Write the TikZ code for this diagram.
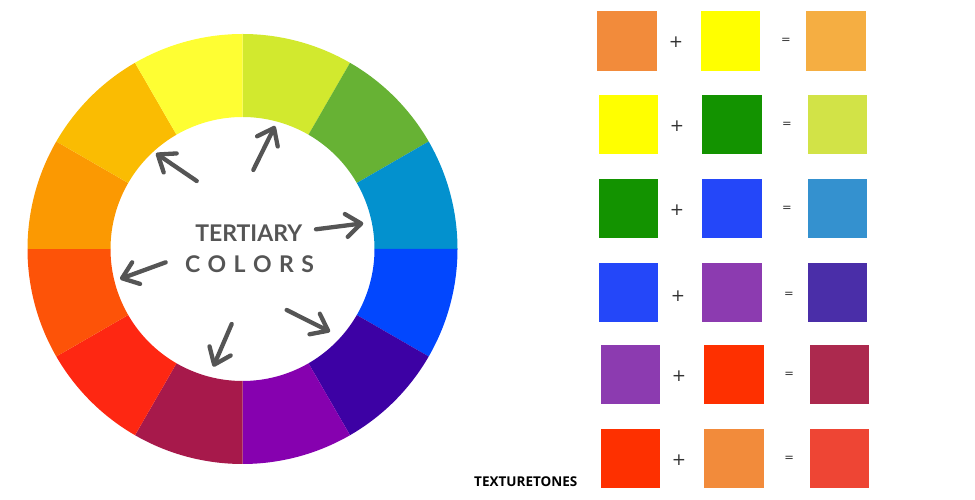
\documentclass[tikz,border=0pt]{standalone}
\usepackage{fontspec}
\setmainfont{Lato}
\newfontfamily\latob{Lato}
\newfontfamily\osans{Open Sans}
\newfontfamily\dvs{DejaVu Sans}
\usetikzlibrary{arrows.meta}
\definecolor{txtgray}{HTML}{555555}
\definecolor{opgray}{HTML}{333333}
% wheel colours
\definecolor{w1}{HTML}{D2E92E}
\definecolor{w2}{HTML}{67B234}
\definecolor{w3}{HTML}{0391CE}
\definecolor{w4}{HTML}{0247FE}
\definecolor{w5}{HTML}{3D01A4}
\definecolor{w6}{HTML}{8601AF}
\definecolor{w7}{HTML}{A7194B}
\definecolor{w8}{HTML}{FE2712}
\definecolor{w9}{HTML}{FD5308}
\definecolor{w10}{HTML}{FB9902}
\definecolor{w11}{HTML}{FABC02}
\definecolor{w12}{HTML}{FEFE33}
% swatch colours
\definecolor{cOrange}{HTML}{F28B3B}
\definecolor{cYellow}{HTML}{FFFF00}
\definecolor{cYO}{HTML}{F5AE42}
\definecolor{cGreen}{HTML}{139300}
\definecolor{cYG}{HTML}{D2E347}
\definecolor{cBlue}{HTML}{2447F9}
\definecolor{cBG}{HTML}{3491CF}
\definecolor{cPurple}{HTML}{8C3BB0}
\definecolor{cBP}{HTML}{4A2EA8}
\definecolor{cRed}{HTML}{FE3000}
\definecolor{cRP}{HTML}{AC294E}
\definecolor{cRO}{HTML}{EE4534}
\tikzset{
  swatch/.style={fill=#1, draw=none, minimum width=59.5pt, minimum height=59.5pt, inner sep=0pt, outer sep=0pt},
  plussign/.style={text=opgray, inner sep=0pt, font=\dvs\fontsize{17}{17}\selectfont},
  eqsign/.style={text=opgray, inner sep=0pt, font=\dvs\fontsize{11.5}{11.5}\selectfont},
  pointer/.style={draw=txtgray, line width=4.3pt, line cap=round, line join=round,
    -{Straight Barb[length=15pt,width=23pt,round]}},
  title/.style={text=txtgray, inner sep=0pt, font=\latob\bfseries\fontsize{23}{23}\selectfont},
}
\begin{document}
\begin{tikzpicture}[x=1pt,y=1pt]
\useasboundingbox (0,0) rectangle (975,500);
% colour wheel
\coordinate (wc) at (242.5,251);
\foreach \i/\c in {1/w1,2/w2,3/w3,4/w4,5/w5,6/w6,7/w7,8/w8,9/w9,10/w10,11/w11,12/w12}{
  \pgfmathsetmacro{\a}{90-30*\i}
  \pgfmathsetmacro{\b}{120-30*\i}
  \fill[\c] ([shift={(\a:132)}]wc) arc[start angle=\a, end angle=\b, radius=132]
     -- ([shift={(\b:215)}]wc) arc[start angle=\b, end angle=\a, radius=215] -- cycle;
}
% centre text
\node[title] (t1) at (248.7,267.3) {TERTIARY};
\node[title] (t2) at (249.5,236) {C\hspace{7.4pt}O\hspace{7.4pt}L\hspace{7.4pt}O\hspace{7.4pt}R\hspace{7.4pt}S};
% arrows
\coordinate (a1s) at (196.7,319);  \coordinate (a1e) at (156,346.7);
\coordinate (a2s) at (253.3,330);  \coordinate (a2e) at (275,374);
\coordinate (a3s) at (316,270.7);  \coordinate (a3e) at (363.3,276.7);
\coordinate (a4s) at (165.7,237.7); \coordinate (a4e) at (120,221);
\coordinate (a5s) at (286.7,190);  \coordinate (a5e) at (330,168.3);
\coordinate (a6s) at (231.7,176);  \coordinate (a6e) at (213.3,133.3);
\foreach \k in {1,...,6}{ \draw[pointer] (a\k s) -- (a\k e); }
% swatch rows
% row 1
\node[swatch=cOrange] (r1a) at (627,459) {};
\node[plussign] (r1p) at (676,458) {+};
\node[swatch=cYellow] (r1b) at (730.5,459) {};
\node[eqsign] (r1e) at (786,459) {=};
\node[swatch=cYO] (r1c) at (836,459) {};
% row 2
\node[swatch=cYellow] (r2a) at (628.4,375.5) {};
\node[plussign] (r2p) at (677,374) {+};
\node[swatch=cGreen] (r2b) at (732,375.5) {};
\node[eqsign] (r2e) at (787,375) {=};
\node[swatch=cYG] (r2c) at (837.4,375.5) {};
% row 3
\node[swatch=cGreen] (r3a) at (628.4,291.5) {};
\node[plussign] (r3p) at (677,290) {+};
\node[swatch=cBlue] (r3b) at (732,291.5) {};
\node[eqsign] (r3e) at (787,291) {=};
\node[swatch=cBG] (r3c) at (837.4,291.5) {};
% row 4
\node[swatch=cBlue] (r4a) at (628.4,207.5) {};
\node[plussign] (r4p) at (678,204) {+};
\node[swatch=cPurple] (r4b) at (732,207.5) {};
\node[eqsign] (r4e) at (789,205) {=};
\node[swatch=cBP] (r4c) at (837.4,207.5) {};
% row 5
\node[swatch=cPurple] (r5a) at (630.7,125.3) {};
\node[plussign] (r5p) at (679,124) {+};
\node[swatch=cRed] (r5b) at (734,125.3) {};
\node[eqsign] (r5e) at (789.3,125) {=};
\node[swatch=cRP] (r5c) at (839.5,125.3) {};
% row 6
\node[swatch=cRed] (r6a) at (630.7,41.3) {};
\node[plussign] (r6p) at (679,40) {+};
\node[swatch=cOrange] (r6b) at (734,41.3) {};
\node[eqsign] (r6e) at (789.3,41) {=};
\node[swatch=cRO] (r6c) at (839.5,41.3) {};
% brand
\node[inner sep=0pt, font=\osans\bfseries\fontsize{13.5}{13.5}\selectfont] (brand) at (525.8,18.3) {TEXTURETONES};
\end{tikzpicture}
\end{document}
